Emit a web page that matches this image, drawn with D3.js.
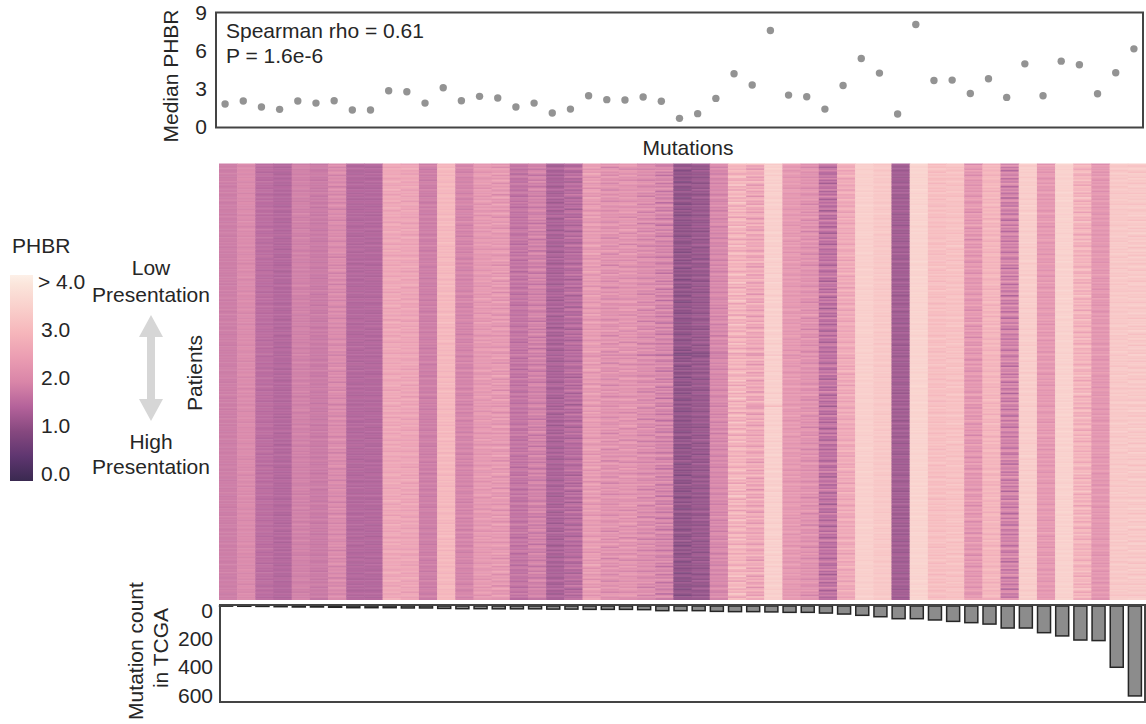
<!DOCTYPE html>
<html>
<head>
<meta charset="utf-8">
<script src="https://cdn.jsdelivr.net/npm/d3@7"></script>
<style>
    html, body { margin: 0; padding: 0; background: #fff; }
    svg { display: block; }
    text { font-family: "Liberation Sans", Arial, sans-serif; font-size: 21px; fill: #262626; }
    .domain { display: none; }
</style>
</head>
<body>
<svg id="chart" width="1146" height="724"></svg>
<script>
// median PHBR per mutation
var medianPHBR = [1.81, 2.04, 1.57, 1.39, 2.04, 1.88, 2.07, 1.34, 1.34, 2.85, 2.77, 1.88, 3.09,
    2.07, 2.41, 2.28, 1.57, 1.88, 1.10, 1.41, 2.46, 2.15, 2.12, 2.36, 2.02, 0.68, 1.05, 2.25,
    4.19, 3.30, 7.59, 2.51, 2.38, 1.41, 3.27, 5.39, 4.24, 1.02, 8.06, 3.66, 3.69, 2.64, 3.80,
    2.33, 4.97, 2.46, 5.18, 4.90, 2.62, 4.27, 6.15]

// mutation count in TCGA
var mutationCount = [1, 2, 3, 5, 7, 7, 9, 12, 12, 12, 14, 14, 17, 19, 19, 20, 20, 20, 22, 22, 24,
    24, 24, 26, 33, 33, 33, 38, 40, 40, 42, 45, 45, 50, 57, 66, 76, 90, 90, 99, 109, 118, 128,
    156, 156, 189, 212, 241, 245, 434, 637]

// heatmap level of each column, estimated from its colour against the colour bar
var columnPHBR = [1.8, 2.0, 1.55, 1.45, 1.85, 1.75, 2.0, 1.45, 1.45, 2.6, 2.55, 1.8, 2.95, 1.9,
    2.3, 2.3, 1.65, 1.85, 1.35, 1.5, 2.35, 2.15, 2.2, 2.05, 1.9, 1.05, 1.15, 1.95, 2.85, 2.6,
    3.45, 2.3, 2.15, 1.6, 2.65, 3.45, 3.3, 1.25, 3.55, 3.1, 3.15, 2.25, 2.9, 1.85, 3.4, 2.3,
    3.5, 2.85, 2.25, 3.3, 3.3]

// how strongly the stripes show in each column (rough visual estimate)
var columnSpread = [0.07, 0.1, 0.1, 0.1, 0.1, 0.1, 0.22, 0.09, 0.09, 0.24, 0.24, 0.12, 0.16, 0.15,
    0.24, 0.36, 0.2, 0.28, 0.2, 0.28, 0.34, 0.34, 0.34, 0.34, 0.38, 0.24, 0.2, 0.22, 0.5, 0.5,
    0.14, 0.22, 0.32, 0.38, 0.34, 0.1, 0.12, 0.15, 0.08, 0.2, 0.18, 0.36, 0.24, 0.46, 0.14, 0.24,
    0.1, 0.42, 0.22, 0.14, 0.22]

// one hand-read run of stripe offsets; the rows are not readable one by one,
// so every column walks this same run from its own starting point
var stripeRun = [0.2, -0.3, 0.5, 0.1, -0.7, 0.3, 0.8, -0.2, -0.5, 0.4, 0, 0.9, -0.4, 0.2, -0.9, 0.6,
    0.1, -0.1, 0.7, -0.6, 0.3, -0.3, 1, 0.2, -0.8, 0.4, -0.2, 0.6, -0.5, 0, 0.5, -1, 0.3, 0.7,
    -0.4, 0.1, -0.6, 0.9, 0, -0.3, 0.4, -0.7, 0.2, 0.6, -0.1, -0.9, 0.5, 0.3, -0.5, 0.8, -0.2,
    0.1, -0.8, 0.4, 0.7, -0.4, 0, 0.3, -0.6, 0.5, -0.1]

var patientRows = d3.range(272)
var mutationIndex = d3.range(medianPHBR.length)

// the faint dark rows visible across the middle of the heatmap
var darkRows = [
    { row: 119, from: 20, to: 31, shift: -0.2 },
    { row: 118, from: 25, to: 29, shift: -0.25 },
    { row: 151, from: 29, to: 30, shift: -0.5 }
]

var phbrStops = [0, 0.5, 1, 1.5, 2, 2.5, 3, 3.5, 4, 4.17]
var phbrColors = ['#3a2950', '#5f3670', '#86487f', '#b4629a', '#d985a8', '#eb9db2', '#f6b6bb',
    '#f9cfcb', '#fbe6dc', '#fdf0e8']

var medianTicks = [0, 3, 6, 9]
var countTicks = [0, 200, 400, 600]
var legendTicks = [0, 1, 2, 3, 4]
var legendLabels = ['0.0', '1.0', '2.0', '3.0', '> 4.0']

var svg = d3.select('#chart')
var color = d3.scaleLinear().domain(phbrStops).range(phbrColors).clamp(true)

// ---- top panel ----
var xTop = d3.scaleBand().domain(mutationIndex).range([216, 1143])
var yTop = d3.scaleLinear().domain([0, 9]).range([127, 12.6])

svg.append('g')
    .selectAll('circle')
    .data(medianPHBR)
    .enter()
    .append('circle')
    .attr('cx', function (d, i) { return xTop(i) + xTop.bandwidth() / 2 })
    .attr('cy', function (d) { return yTop(d) })
    .attr('r', 3.7)
    .style('fill', '#939393')

svg.append('rect')
    .attr('x', 216).attr('y', 12.5).attr('width', 927).attr('height', 115)
    .style('fill', 'none').style('stroke', '#444').style('stroke-width', 2)

svg.append('g')
    .attr('transform', 'translate(216,0)')
    .call(d3.axisLeft(yTop).tickValues(medianTicks).tickSize(0).tickPadding(9))
    .selectAll('text').style('font-size', '21px').style('font-family', null)

svg.append('text').attr('x', 226).attr('y', 38).text('Spearman rho = 0.61')
svg.append('text').attr('x', 226).attr('y', 63).text('P = 1.6e-6')
svg.append('text')
    .attr('transform', 'translate(178,76) rotate(-90)')
    .attr('text-anchor', 'middle')
    .text('Median PHBR')
svg.append('text')
    .attr('x', 688).attr('y', 155)
    .attr('text-anchor', 'middle')
    .text('Mutations')

// ---- heatmap ----
var xHeat = d3.scaleBand().domain(mutationIndex).range([219, 1146])
var yHeat = d3.scaleBand().domain(patientRows).range([163.5, 599.5])

function cellValue(col, row) {
    var offset = stripeRun[(row + col * 13) % stripeRun.length] * columnSpread[col]
    darkRows.forEach(function (d) {
        if (d.row === row && col >= d.from && col <= d.to) offset += d.shift
    })
    return columnPHBR[col] + offset
}

svg.append('defs').append('filter')
    .attr('id', 'soften')
    .append('feGaussianBlur')
    .attr('stdDeviation', '0.5 0.35')

svg.append('g')
    .attr('filter', 'url(#soften)')
    .style('opacity', 0.94)
    .selectAll('g')
    .data(mutationIndex)
    .enter()
    .append('g')
    .each(function (col) {
        d3.select(this).selectAll('rect')
            .data(patientRows)
            .enter()
            .append('rect')
            .attr('x', xHeat(col))
            .attr('y', function (row) { return yHeat(row) })
            .attr('width', xHeat.bandwidth() + 0.5)
            .attr('height', yHeat.bandwidth() + 0.5)
            .style('fill', function (row) { return color(cellValue(col, row)) })
    })

svg.append('text')
    .attr('transform', 'translate(202,373) rotate(-90)')
    .attr('text-anchor', 'middle')
    .text('Patients')

// ---- bottom panel ----
var xBottom = d3.scaleBand().domain(mutationIndex).range([217, 1144])
var yBottom = d3.scaleLinear().domain([0, 680]).range([606, 702])

svg.append('g')
    .selectAll('rect')
    .data(mutationCount)
    .enter()
    .append('rect')
    .attr('x', function (d, i) { return xBottom(i) + xBottom.bandwidth() / 2 - 6.5 })
    .attr('y', yBottom(0))
    .attr('width', 13)
    .attr('height', function (d) { return yBottom(d) - yBottom(0) })
    .style('fill', '#8c8c8c')
    .style('stroke', '#262626')
    .style('stroke-width', 1.5)

svg.append('rect')
    .attr('x', 220).attr('y', 605).attr('width', 925).attr('height', 97)
    .style('fill', 'none').style('stroke', '#444').style('stroke-width', 2)

svg.append('g')
    .attr('transform', 'translate(220,4.7)')
    .call(d3.axisLeft(yBottom).tickValues(countTicks).tickSize(0).tickPadding(7))
    .selectAll('text').style('font-size', '21px').style('font-family', null)

svg.append('text')
    .attr('transform', 'translate(143,651) rotate(-90)')
    .attr('text-anchor', 'middle')
    .text('Mutation count')
svg.append('text')
    .attr('transform', 'translate(168,648) rotate(-90)')
    .attr('text-anchor', 'middle')
    .text('in TCGA')

// ---- colour bar ----
var yLegend = d3.scaleLinear().domain([0, 4]).range([474, 282])
var gradient = svg.select('defs').append('linearGradient')
    .attr('id', 'phbrGradient')
    .attr('x1', 0).attr('x2', 0).attr('y1', 1).attr('y2', 0)
gradient.selectAll('stop')
    .data(phbrStops)
    .enter()
    .append('stop')
    .attr('offset', function (d) { return d / phbrStops[phbrStops.length - 1] })
    .attr('stop-color', function (d, i) { return phbrColors[i] })

svg.append('rect')
    .attr('x', 10).attr('y', 275).attr('width', 23).attr('height', 206)
    .style('fill', 'url(#phbrGradient)')

var legendAxis = svg.append('g')
    .attr('transform', 'translate(33,0)')
    .call(d3.axisRight(yLegend)
        .tickValues(legendTicks)
        .tickSize(0)
        .tickPadding(8)
        .tickFormat(function (d, i) { return legendLabels[i] }))
legendAxis.selectAll('text').style('font-size', '21px').style('font-family', null)
legendAxis.selectAll('text').filter(function (d) { return d === 4 }).attr('x', 5)

svg.append('text').attr('x', 12).attr('y', 253).text('PHBR')

// ---- presentation arrow ----
svg.append('path')
    .attr('d', 'M151,315 L163,337 L155,337 L155,399 L163,399 L151,421 L139,399 L147,399 L147,337 L139,337 Z')
    .style('fill', '#d6d6d6')

var arrowLabels = [['Low', 275], ['Presentation', 302], ['High', 449], ['Presentation', 474]]
arrowLabels.forEach(function (d) {
    svg.append('text')
        .attr('x', 151).attr('y', d[1])
        .attr('text-anchor', 'middle')
        .text(d[0])
})
</script>
</body>
</html>
